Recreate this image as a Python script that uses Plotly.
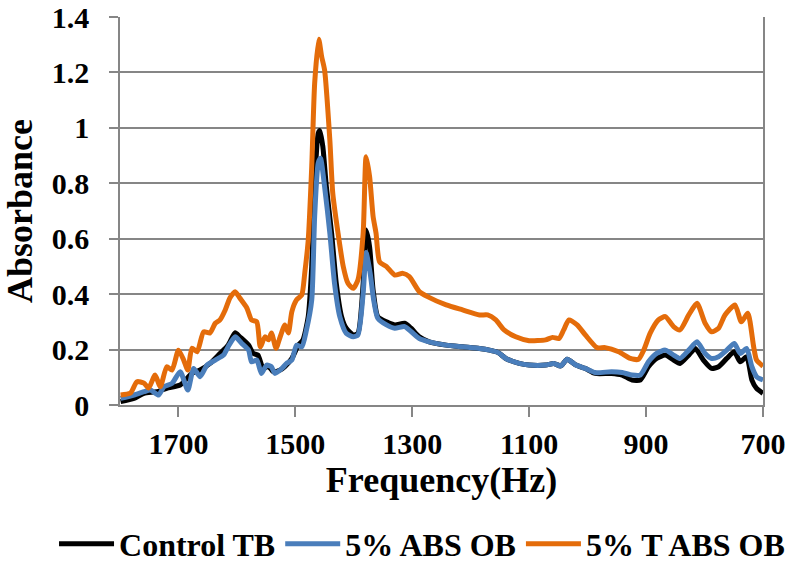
import plotly.graph_objects as go

# Frequency (Hz) / absorbance samples for each formulation
freq_control = [1799, 1776, 1759, 1737, 1720, 1697, 1688, 1677, 1663, 1646, 1629, 1615, 1603,
                1595, 1580, 1572, 1564, 1555, 1546, 1538, 1526, 1518, 1506, 1495, 1487, 1478,
                1472, 1467, 1461, 1458, 1453, 1447, 1438, 1430, 1421, 1413, 1401, 1393, 1384,
                1379, 1373, 1367, 1359, 1344, 1330, 1313, 1302, 1288, 1271, 1242, 1214, 1185,
                1168, 1153, 1140, 1117, 1100, 1072, 1058, 1046, 1035, 1020, 1004, 987, 959,
                941, 924, 910, 896, 882, 867, 853, 842, 827, 816, 802, 788, 776, 762, 749, 739,
                728, 719, 711, 700]
abs_control = [0.012, 0.024, 0.042, 0.048, 0.060, 0.072, 0.090, 0.114, 0.126, 0.150, 0.186, 0.216,
               0.261, 0.246, 0.216, 0.186, 0.180, 0.132, 0.140, 0.120, 0.126, 0.138, 0.168, 0.216,
               0.235, 0.319, 0.499, 0.788, 0.980, 0.990, 0.932, 0.788, 0.620, 0.439, 0.319, 0.277,
               0.253, 0.259, 0.439, 0.631, 0.571, 0.415, 0.319, 0.300, 0.289, 0.295, 0.277, 0.246,
               0.228, 0.216, 0.210, 0.204, 0.198, 0.189, 0.168, 0.150, 0.144, 0.144, 0.150, 0.141,
               0.165, 0.144, 0.132, 0.114, 0.114, 0.108, 0.090, 0.090, 0.138, 0.168, 0.180, 0.162,
               0.150, 0.180, 0.204, 0.162, 0.132, 0.138, 0.168, 0.192, 0.156, 0.174, 0.090, 0.060,
               0.042]

freq_abs = [1799, 1776, 1759, 1748, 1734, 1725, 1711, 1697, 1684, 1674, 1663, 1651, 1637, 1623,
            1615, 1603, 1592, 1580, 1575, 1566, 1558, 1549, 1541, 1535, 1523, 1515, 1506, 1498,
            1489, 1481, 1472, 1467, 1461, 1457, 1450, 1441, 1433, 1424, 1413, 1401, 1393, 1384,
            1379, 1372, 1366, 1359, 1344, 1330, 1313, 1302, 1288, 1271, 1242, 1214, 1185, 1168,
            1153, 1140, 1117, 1100, 1072, 1058, 1046, 1035, 1020, 1004, 987, 959, 941, 924, 910,
            896, 882, 867, 853, 842, 827, 813, 799, 788, 776, 762, 749, 739, 728, 719, 711, 700]
abs_abs = [0.024, 0.036, 0.048, 0.054, 0.036, 0.066, 0.078, 0.120, 0.054, 0.132, 0.102, 0.144,
           0.162, 0.180, 0.210, 0.246, 0.223, 0.198, 0.156, 0.162, 0.114, 0.144, 0.138, 0.114,
           0.132, 0.150, 0.162, 0.216, 0.210, 0.271, 0.379, 0.680, 0.872, 0.890, 0.788, 0.620,
           0.439, 0.319, 0.259, 0.246, 0.253, 0.403, 0.550, 0.475, 0.379, 0.313, 0.289, 0.277,
           0.283, 0.265, 0.240, 0.228, 0.216, 0.210, 0.204, 0.198, 0.189, 0.168, 0.150, 0.144,
           0.144, 0.150, 0.141, 0.165, 0.144, 0.132, 0.117, 0.120, 0.117, 0.108, 0.108, 0.156,
           0.186, 0.198, 0.180, 0.168, 0.198, 0.228, 0.186, 0.168, 0.174, 0.198, 0.222, 0.186,
           0.204, 0.138, 0.102, 0.090]

freq_t_abs = [1799, 1782, 1771, 1759, 1751, 1740, 1731, 1720, 1711, 1700, 1691, 1684, 1677, 1668,
              1657, 1646, 1637, 1629, 1620, 1612, 1603, 1595, 1583, 1575, 1566, 1560, 1552, 1546,
              1541, 1533, 1526, 1518, 1512, 1506, 1498, 1489, 1484, 1478, 1472, 1467, 1460, 1455,
              1450, 1441, 1436, 1427, 1418, 1410, 1401, 1393, 1384, 1379, 1373, 1367, 1362, 1356,
              1344, 1330, 1316, 1305, 1288, 1274, 1242, 1214, 1185, 1171, 1157, 1143, 1123, 1100,
              1072, 1060, 1049, 1041, 1032, 1018, 1004, 984, 970, 947, 927, 913, 904, 893, 879,
              867, 853, 842, 827, 813, 799, 788, 776, 765, 748, 737, 726, 716, 711, 700]
abs_t_abs = [0.036, 0.043, 0.084, 0.079, 0.061, 0.108, 0.066, 0.138, 0.126, 0.198, 0.162, 0.126,
             0.205, 0.192, 0.264, 0.260, 0.295, 0.307, 0.343, 0.386, 0.409, 0.386, 0.350, 0.307,
             0.300, 0.210, 0.246, 0.235, 0.260, 0.205, 0.246, 0.289, 0.260, 0.337, 0.379, 0.397,
             0.475, 0.595, 0.860, 1.160, 1.320, 1.257, 1.209, 0.956, 0.764, 0.620, 0.499, 0.439,
             0.421, 0.451, 0.620, 0.896, 0.824, 0.680, 0.620, 0.517, 0.499, 0.469, 0.475, 0.463,
             0.409, 0.391, 0.361, 0.343, 0.325, 0.325, 0.307, 0.271, 0.246, 0.232, 0.235, 0.244,
             0.240, 0.271, 0.307, 0.289, 0.253, 0.207, 0.207, 0.192, 0.168, 0.165, 0.198, 0.259,
             0.307, 0.319, 0.283, 0.271, 0.325, 0.367, 0.295, 0.264, 0.277, 0.325, 0.361, 0.300,
             0.331, 0.210, 0.162, 0.140]

x_ticks = [1700, 1500, 1300, 1100, 900, 700]
y_ticks = [0, 0.2, 0.4, 0.6, 0.8, 1.0, 1.2, 1.4]

series = [
    ("Control TB", freq_control, abs_control, "#000000"),
    ("5% ABS OB", freq_abs, abs_abs, "#4A7EBB"),
    ("5% T ABS OB", freq_t_abs, abs_t_abs, "#E46C0A"),
]

FONT = "Liberation Serif, Times New Roman, serif"
GRID = "#868686"

fig = go.Figure()
for name, fx, fy, color in series:
    fig.add_trace(go.Scatter(
        x=fx, y=fy, name=name, mode="lines",
        line=dict(color=color, width=5, shape="spline", smoothing=0.6),
    ))

fig.update_layout(
    width=792, height=565,
    margin=dict(l=120, r=29, t=17, b=160, autoexpand=False),
    paper_bgcolor="white", plot_bgcolor="white",
    font=dict(family=FONT, color="black", size=30, weight="bold"),
    showlegend=True,
    legend=dict(
        orientation="h", x=-0.1026, xanchor="left", y=-0.287, yanchor="top",
        font=dict(family=FONT, size=32, weight="bold"),
        itemwidth=55, tracegroupgap=0, borderwidth=0, bgcolor="rgba(0,0,0,0)",
    ),
)

fig.update_xaxes(
    range=[1800, 700], autorange=False,
    tickmode="array", tickvals=x_ticks, ticktext=[str(v) for v in x_ticks],
    ticks="outside", ticklen=10, tickwidth=1.5, tickcolor=GRID,
    showline=True, linecolor=GRID, linewidth=1.5, mirror=False,
    showgrid=False, zeroline=False,
    ticklabelstandoff=1,
    tickfont=dict(family=FONT, size=30, weight="bold"),
    title=dict(text="Frequency(Hz)", standoff=8,
               font=dict(family=FONT, size=36, weight="bold")),
)
fig.update_yaxes(
    range=[0, 1.4], autorange=False,
    tickmode="array", tickvals=y_ticks,
    ticktext=["0", "0.2", "0.4", "0.6", "0.8", "1", "1.2", "1.4"],
    ticks="outside", ticklen=9, tickwidth=1.5, tickcolor=GRID,
    showline=True, linecolor=GRID, linewidth=1.5, mirror=True,
    showgrid=True, gridcolor=GRID, gridwidth=1.5, zeroline=False,
    ticklabelstandoff=14,
    tickfont=dict(family=FONT, size=30, weight="bold"),
    title=dict(text="Absorbance", standoff=8,
               font=dict(family=FONT, size=36, weight="bold")),
)

fig.write_html("out.html")
